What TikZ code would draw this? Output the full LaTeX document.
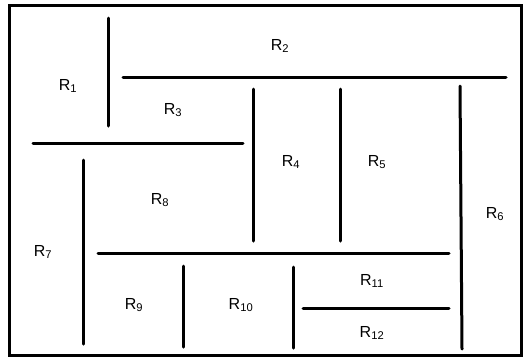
\documentclass[tikz,border=0pt]{standalone}
\usepackage{fontspec}
\setmainfont{Liberation Sans}
\begin{document}
\begin{tikzpicture}[x=1pt,y=-1pt,
  wall/.style={line width=3pt,line cap=round},
  frame/.style={line width=3pt},
  region/.style={inner sep=0pt,font=\fontsize{16}{18}\selectfont}]
\useasboundingbox (0,0) rectangle (530,360);
% outer border
\draw[frame] (9,5) rectangle (521,355);
% partition walls
\draw[wall] (108,18) -- (108,126);
\draw[wall] (123,77) -- (506,77);
\draw[wall] (33,143) -- (243,143);
\draw[wall] (253,89) -- (253,241);
\draw[wall] (340,89) -- (340,241);
\draw[wall] (460,86) -- (462,349);
\draw[wall] (83,160) -- (83,344);
\draw[wall] (98,253) -- (449,253);
\draw[wall] (183,266) -- (183,347);
\draw[wall] (293,267) -- (293,348);
\draw[wall] (303,308) -- (449,308);
% region labels
\node[region] (r1)  at (68,86)   {R\textsubscript{1}};
\node[region] (r2)  at (280,46)  {R\textsubscript{2}};
\node[region] (r3)  at (173,110) {R\textsubscript{3}};
\node[region] (r4)  at (291,162) {R\textsubscript{4}};
\node[region] (r5)  at (377,162) {R\textsubscript{5}};
\node[region] (r6)  at (495,214) {R\textsubscript{6}};
\node[region] (r7)  at (43,252)  {R\textsubscript{7}};
\node[region] (r8)  at (160,200) {R\textsubscript{8}};
\node[region] (r9)  at (134,305) {R\textsubscript{9}};
\node[region] (r10) at (241,305) {R\textsubscript{10}};
\node[region] (r11) at (372,281) {R\textsubscript{11}};
\node[region] (r12) at (372,333) {R\textsubscript{12}};
\end{tikzpicture}
\end{document}
